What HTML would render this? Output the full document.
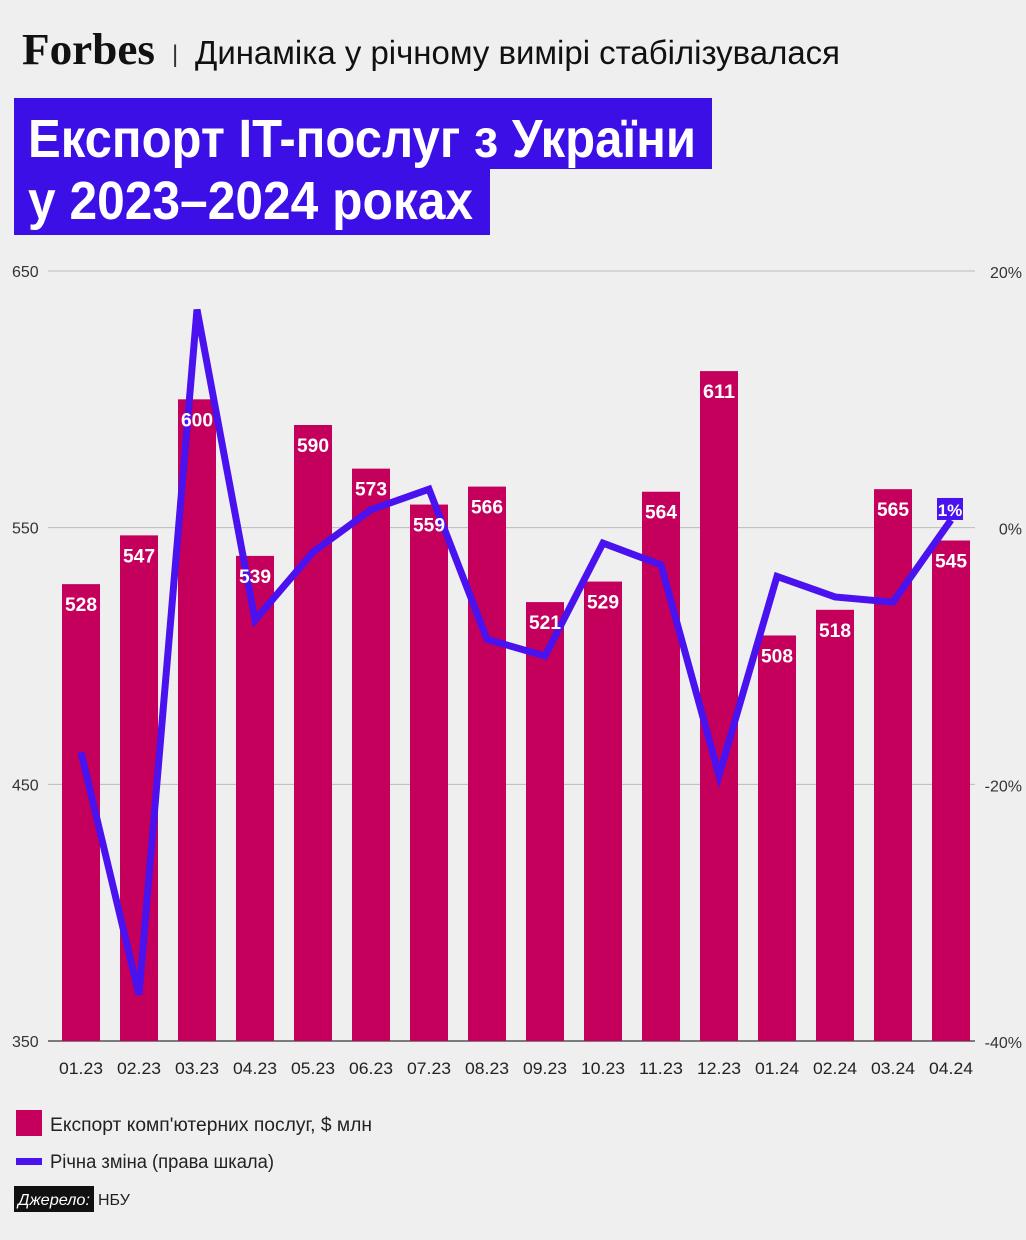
<!DOCTYPE html>
<html><head><meta charset="utf-8">
<style>
body{margin:0;background:#efefef;}
svg text{font-family:"Liberation Sans",sans-serif;}
</style></head>
<body>
<svg id="c" width="1026" height="1235" viewBox="0 0 1026 1235" xmlns="http://www.w3.org/2000/svg">
<rect width="1026" height="1235" fill="#efefef"/>
<text x="22" y="64" font-weight="bold" font-size="44" fill="#111" textLength="133" lengthAdjust="spacingAndGlyphs" style="font-family:'Liberation Serif',serif">Forbes</text>
<text x="172" y="62" font-size="24" fill="#333">|</text>
<text x="195" y="64" font-size="33" fill="#111" textLength="645" lengthAdjust="spacingAndGlyphs">Динаміка у річному вимірі стабілізувалася</text>
<rect x="14" y="98" width="698" height="71" fill="#3c0fe6"/>
<rect x="14" y="168" width="476" height="67" fill="#3c0fe6"/>
<text x="28" y="157" font-size="54" font-weight="bold" fill="#fff" textLength="668" lengthAdjust="spacingAndGlyphs">Експорт IT-послуг з України</text>
<text x="28" y="219" font-size="54" font-weight="bold" fill="#fff" textLength="445" lengthAdjust="spacingAndGlyphs">у 2023–2024 роках</text>
<g id="plot"></g>
<rect x="16" y="1110" width="26" height="26" fill="#c4005c"/>
<text x="50" y="1131" font-size="19" fill="#222" textLength="322" lengthAdjust="spacingAndGlyphs">Експорт комп'ютерних послуг, $ млн</text>
<rect x="16" y="1158" width="26" height="7" fill="#4a12ee"/>
<text x="50" y="1168" font-size="19" fill="#222" textLength="224" lengthAdjust="spacingAndGlyphs">Річна зміна (права шкала)</text>
<rect x="14" y="1186" width="80" height="26" fill="#111"/>
<text x="18" y="1205" font-size="16" font-style="italic" fill="#fff" textLength="72" lengthAdjust="spacingAndGlyphs">Джерело:</text>
<text x="98" y="1205" font-size="16" fill="#222">НБУ</text>
</svg>
<script>
const categories=["01.23","02.23","03.23","04.23","05.23","06.23","07.23","08.23","09.23","10.23","11.23","12.23","01.24","02.24","03.24","04.24"];
const exportValues=[528,547,600,539,590,573,559,566,521,529,564,611,508,518,565,545];
const yoyChange=[-17.5,-36.4,17,-7.2,-1.9,1.4,3,-8.7,-10,-1.2,-2.9,-19.3,-3.8,-5.4,-5.8,0.6];
const leftTicks=[350,450,550,650];
const rightTicks=[-40,-20,0,20];
const NS="http://www.w3.org/2000/svg";
const plotG=document.getElementById('plot');
const plotTop=271,plotBot=1041,px0=48,px1=975;
const yL=v=>plotBot-(v-350)/300*(plotBot-plotTop);
const yR=v=>plotBot-(v+40)/60*(plotBot-plotTop);
const xC=i=>81+i*58;
function mk(t,a,txt){const e=document.createElementNS(NS,t);for(const k in a)e.setAttribute(k,a[k]);if(txt!==undefined)e.textContent=txt;plotG.appendChild(e);return e;}
leftTicks.forEach((v,i)=>{
 const l=mk('line',{x1:px0,x2:px1,y1:yL(v),y2:yL(v),stroke:i===0?'#555':'#bbb','stroke-width':i===0?1.5:1});
 
 
 const t=mk('text',{x:12,y:yL(v)+6,'font-size':16,fill:'#333'},v);
 
 
});
rightTicks.forEach(v=>{
 const t=mk('text',{x:1022,y:yR(v)+7,'font-size':16,fill:'#333','text-anchor':'end'},v+'%');
 
 
});
categories.forEach((c,i)=>{
 const r=mk('rect',{x:xC(i)-19,y:yL(exportValues[i]),width:38,height:plotBot-yL(exportValues[i]),fill:'#c4005c'});
 
 
 const t=mk('text',{x:xC(i),y:1074,'font-size':17,fill:'#222','text-anchor':'middle',textLength:44,lengthAdjust:'spacingAndGlyphs'},c);
 
 
});
const pts=yoyChange.map((v,i)=>xC(i)+','+yR(v)).join(' ');
const pl=mk('polyline',{points:pts,fill:'none',stroke:'#4a12ee','stroke-width':7,'stroke-linejoin':'miter'});


categories.forEach((c,i)=>{
 const t=mk('text',{x:xC(i),y:yL(exportValues[i])+27,'font-size':19,'font-weight':'bold',fill:'#fff','text-anchor':'middle',textLength:32,lengthAdjust:'spacingAndGlyphs'},exportValues[i]);
 
 
});
const last=yoyChange.length-1;
const lb=mk('rect',{x:xC(last)-14,y:yR(yoyChange[last])-22,width:26,height:22,fill:'#4a12ee'});


const lt=mk('text',{x:xC(last)-1,y:yR(yoyChange[last])-4,'font-size':17,'font-weight':'bold',fill:'#fff','text-anchor':'middle'},Math.round(yoyChange[last])+'%');


</script>
</body></html>
